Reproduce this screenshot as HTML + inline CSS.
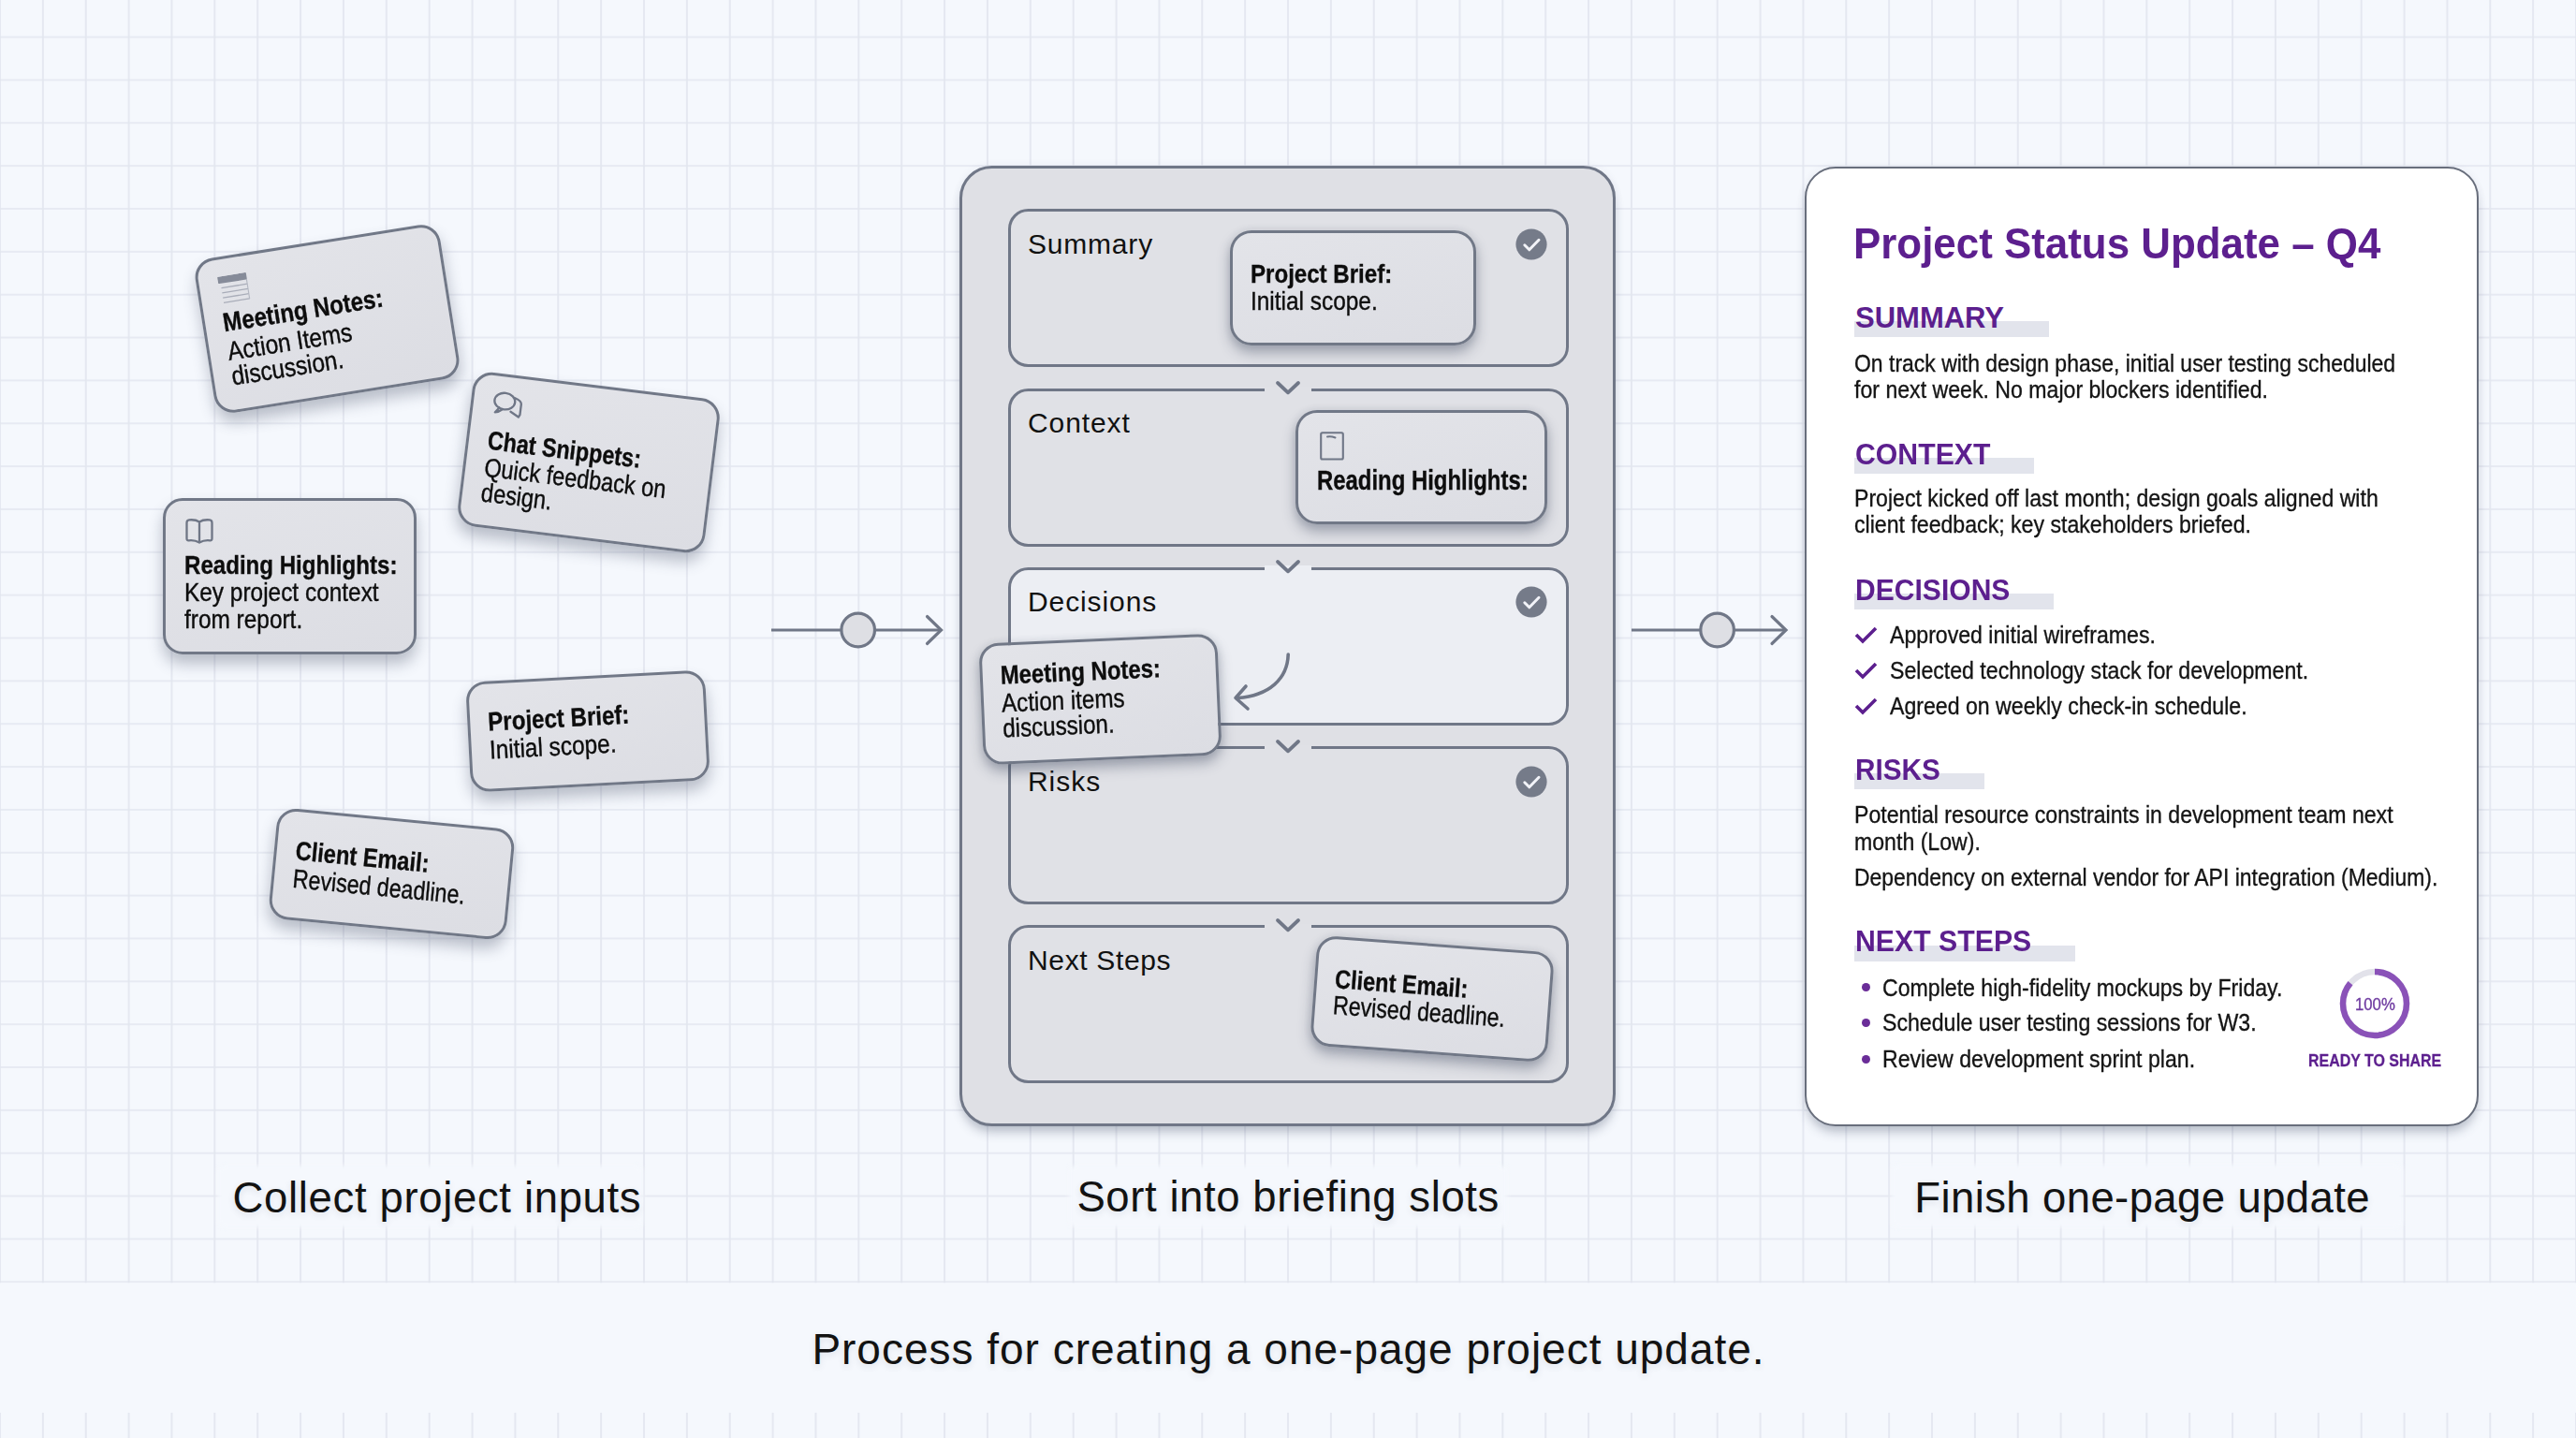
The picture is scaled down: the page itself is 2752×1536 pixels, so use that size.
<!DOCTYPE html>
<html><head><meta charset="utf-8">
<style>
*{box-sizing:border-box;margin:0;padding:0}
html,body{width:2752px;height:1536px;overflow:hidden}
body{background:#f5f8fd;font-family:"Liberation Sans",sans-serif;color:#111;position:relative}
.abs{position:absolute}
.grid{position:absolute;left:0;top:0}
.lbl{position:absolute;font-size:44px;letter-spacing:0.9px;white-space:nowrap;line-height:1;color:#121212;text-shadow:0 3px 7px rgba(60,70,90,.13)}
.glow{position:absolute;background:#f5f8fd;filter:blur(2.5px);border-radius:6px}
.card{position:absolute;background:linear-gradient(165deg,#e3e4e9 0%,#dcdde3 100%);border:3px solid #717887;border-radius:21px;box-shadow:0 10px 16px rgba(60,70,95,.33)}
.t{position:absolute;white-space:nowrap;transform-origin:0 0;line-height:1;font-size:28px;color:#0d0d0d;-webkit-text-stroke:0.4px #0d0d0d}
.t.b{-webkit-text-stroke:0.35px #0d0d0d}
.b{font-weight:700}
.panel{position:absolute;left:1025px;top:177.4px;width:701px;height:1025.7px;border:3px solid #707787;border-radius:34.5px;background:#dfe0e5;box-shadow:0 9px 12px -3px rgba(60,70,95,.32), 0 0 10px rgba(60,70,95,.06)}
.slot{position:absolute;left:1076.5px;width:599.5px;height:169px;border:3px solid #707787;border-radius:21.5px;background:#e0e1e6}
.slotlbl{position:absolute;left:1098px;font-size:30px;line-height:1;white-space:nowrap;color:#111;letter-spacing:0.5px}
.doc{position:absolute;left:1927.7px;top:177.7px;width:720.7px;height:1025px;border:2.5px solid #686e7c;border-radius:33px;background:#fff;box-shadow:0 9px 12px -3px rgba(60,70,95,.32), 0 0 10px rgba(60,70,95,.06)}
.dt{position:absolute;white-space:nowrap;transform-origin:0 0;line-height:1;font-size:26px;color:#141414;-webkit-text-stroke:0.35px #141414}
.h{position:absolute;white-space:nowrap;transform-origin:0 0;line-height:1;font-size:31px;font-weight:700;color:#5c1f8e}
.bar{position:absolute;background:#e2e4ec}
</style></head><body>
<svg class="grid" width="2752" height="1536">
<defs>
<pattern id="gp" x="-22.933" y="16.675" width="45.867" height="45.85" patternUnits="userSpaceOnUse">
<path d="M22.933 0V45.85M0 22.925H45.867" stroke="#e2e6ef" stroke-width="1.7" fill="none"/>
</pattern>
<pattern id="gv" x="-22.933" y="0" width="45.867" height="100" patternUnits="userSpaceOnUse">
<path d="M22.933 0V100" stroke="#e2e6ef" stroke-width="1.7" fill="none"/>
</pattern>
</defs>
<rect x="0" y="0" width="2752" height="1370.3" fill="url(#gp)"/>
<rect x="0" y="1509" width="2752" height="27" fill="url(#gv)"/>
</svg>
<div class="glow" style="left:233px;top:1244.5px;width:454px;height:66px"></div>
<div class="glow" style="left:1142px;top:1244.5px;width:468px;height:66px"></div>
<div class="glow" style="left:2021px;top:1244px;width:546px;height:67px"></div>
<div class="lbl" style="left:248.6px;top:1256.5px;font-size:45.5px;letter-spacing:0.65px">Collect project inputs</div>
<div class="lbl" style="left:1150.4px;top:1256.1px;font-size:45.5px;letter-spacing:0.58px">Sort into briefing slots</div>
<div class="lbl" style="left:2045.3px;top:1256.5px;font-size:45.5px;letter-spacing:0.39px">Finish one-page update</div>
<div class="lbl" style="left:867.4px;top:1418.1px;font-size:46px;letter-spacing:0.99px">Process for creating a one-page project update.</div>
<div class="card" style="left:216.9px;top:256.9px;width:265px;height:166.5px;transform:rotate(-9deg);border-radius:21px"><svg class="abs" style="left:19.5px;top:18px" width="34" height="32" viewBox="0 0 34 32"><rect x="0.5" y="0" width="31" height="7.5" rx="1" fill="#868b99"/><path d="M3 12.3H31M3 17.6H31M3 22.9H31M3 28.2H31" stroke="#a9adb9" stroke-width="1.3"/><path d="M31 7V28.5" stroke="#b3b7c1" stroke-width="1.1"/></svg><div class="t b" style="left:18.7px;top:54.3px;font-size:28px;transform:scaleX(0.86)">Meeting Notes:</div><div class="t" style="left:18.7px;top:84.8px;font-size:28px;transform:scaleX(0.872)">Action Items</div><div class="t" style="left:18.7px;top:112.1px;font-size:28px;transform:scaleX(0.872)">discussion.</div></div>
<div class="card" style="left:495.6px;top:411.3px;width:266px;height:166px;transform:rotate(7deg);border-radius:21px"><svg class="abs" style="left:19.2px;top:14.4px" width="36" height="32" viewBox="-14 -12 36 32"><g fill="none" stroke="#6f7686" stroke-width="2.3" stroke-linejoin="round" stroke-linecap="round"><path d="M10.5 -4.6C14 -3.6 17.6 -2 17.8 1L17.8 12.5L16.5 15L7.5 10.3"/><ellipse cx="0" cy="0" rx="11" ry="8.8"/><path d="M-5 7.4C-6.5 10 -8 12 -9 13C-6.5 12.6 -4 11.2 -1.5 8.9"/></g></svg><div class="t b" style="left:19.7px;top:55.7px;font-size:28px;transform:scaleX(0.835)">Chat Snippets:</div><div class="t" style="left:19.7px;top:85.1px;font-size:28px;transform:scaleX(0.842)">Quick feedback on</div><div class="t" style="left:19.7px;top:111.7px;font-size:28px;transform:scaleX(0.842)">design.</div></div>
<div class="card" style="left:174.0px;top:532.0px;width:271px;height:167px;transform:rotate(0deg);border-radius:21px"><svg class="abs" style="left:20px;top:17.5px" width="32" height="29" viewBox="0 0 32 29"><path d="M16 4.5C13 2.5 9 2 5 2.4Q2.5 2.7 2.5 5.5V22.3Q2.5 24.6 4.8 24.3C8.5 23.9 12.5 24.5 16 26.6C19.5 24.5 23.5 23.9 27.2 24.3Q29.5 24.6 29.5 22.3V5.5Q29.5 2.7 27 2.4C23 2 19 2.5 16 4.5ZM16 4.5V26.6" fill="none" stroke="#6f7686" stroke-width="2.3" stroke-linejoin="round"/></svg><div class="t b" style="left:19.5px;top:55.3px;font-size:28px;transform:scaleX(0.86)">Reading Highlights:</div><div class="t" style="left:19.5px;top:84.3px;font-size:28px;transform:scaleX(0.872)">Key project context</div><div class="t" style="left:19.5px;top:112.8px;font-size:28px;transform:scaleX(0.872)">from report.</div></div>
<div class="card" style="left:500.0px;top:722.2px;width:256px;height:118.4px;transform:rotate(-3deg);border-radius:21px"><div class="t b" style="left:19.2px;top:26.7px;font-size:28px;transform:scaleX(0.86)">Project Brief:</div><div class="t" style="left:19.2px;top:56.7px;font-size:28px;transform:scaleX(0.872)">Initial scope.</div></div>
<div class="card" style="left:290.6px;top:874.1px;width:255px;height:118.7px;transform:rotate(5.5deg);border-radius:21px"><div class="t b" style="left:20.1px;top:28.2px;font-size:28px;transform:scaleX(0.845)">Client Email:</div><div class="t" style="left:20.1px;top:57.6px;font-size:28px;transform:scaleX(0.83)">Revised deadline.</div></div>
<svg class="abs" style="left:819px;top:643px" width="193.5" height="60" viewBox="819 643 193.5 60"><path d="M824 673H1004.5" stroke="#707787" stroke-width="3" fill="none"/><path d="M990.5 658.5L1005.5 673L990.5 687.5" stroke="#707787" stroke-width="3.2" fill="none" stroke-linecap="round"/><circle cx="916.7" cy="673" r="17.8" fill="#dedfe4" stroke="#707787" stroke-width="3.2"/></svg>
<svg class="abs" style="left:1738px;top:643px" width="177" height="60" viewBox="1738 643 177 60"><path d="M1743 673H1907" stroke="#707787" stroke-width="3" fill="none"/><path d="M1893 658.5L1908 673L1893 687.5" stroke="#707787" stroke-width="3.2" fill="none" stroke-linecap="round"/><circle cx="1834.6" cy="673" r="17.8" fill="#dedfe4" stroke="#707787" stroke-width="3.2"/></svg>
<div class="panel"></div>
<div class="slot" style="top:223.30px;background:#e0e1e6"></div>
<div class="slotlbl" style="top:245.9px;letter-spacing:0.8px">Summary</div>
<svg class="abs" style="left:1619px;top:243.8px" width="34" height="34" viewBox="0 0 34 34"><circle cx="17" cy="17" r="16.6" fill="#757b89"/><path d="M9.8 17.8l5 5 10.2-10.5" stroke="#f2f3f8" stroke-width="3" fill="none" stroke-linecap="round" stroke-linejoin="round"/></svg>
<div class="slot" style="top:414.55px;background:#e0e1e6"></div>
<div class="slotlbl" style="top:437.2px;letter-spacing:0.9px">Context</div>
<div class="abs" style="left:1351px;top:413.1px;width:50px;height:5px;background:#e0e1e6"></div>
<svg class="abs" style="left:1356px;top:400.1px" width="40" height="26" viewBox="0 0 40 26"><path d="M9 9L20 19.3L31 9" stroke="#707787" stroke-width="3.8" fill="none" stroke-linecap="round" stroke-linejoin="round"/></svg>
<div class="slot" style="top:605.80px;background:#eceef3"></div>
<div class="slotlbl" style="top:628.4px;letter-spacing:0.9px">Decisions</div>
<svg class="abs" style="left:1619px;top:626.3px" width="34" height="34" viewBox="0 0 34 34"><circle cx="17" cy="17" r="16.6" fill="#757b89"/><path d="M9.8 17.8l5 5 10.2-10.5" stroke="#f2f3f8" stroke-width="3" fill="none" stroke-linecap="round" stroke-linejoin="round"/></svg>
<div class="abs" style="left:1351px;top:604.3px;width:50px;height:5px;background:#eceef3"></div>
<svg class="abs" style="left:1356px;top:591.3px" width="40" height="26" viewBox="0 0 40 26"><path d="M9 9L20 19.3L31 9" stroke="#707787" stroke-width="3.8" fill="none" stroke-linecap="round" stroke-linejoin="round"/></svg>
<div class="slot" style="top:797.05px;background:#e0e1e6"></div>
<div class="slotlbl" style="top:819.7px;letter-spacing:0.95px">Risks</div>
<svg class="abs" style="left:1619px;top:817.5px" width="34" height="34" viewBox="0 0 34 34"><circle cx="17" cy="17" r="16.6" fill="#757b89"/><path d="M9.8 17.8l5 5 10.2-10.5" stroke="#f2f3f8" stroke-width="3" fill="none" stroke-linecap="round" stroke-linejoin="round"/></svg>
<div class="abs" style="left:1351px;top:795.5px;width:50px;height:5px;background:#e0e1e6"></div>
<svg class="abs" style="left:1356px;top:782.5px" width="40" height="26" viewBox="0 0 40 26"><path d="M9 9L20 19.3L31 9" stroke="#707787" stroke-width="3.8" fill="none" stroke-linecap="round" stroke-linejoin="round"/></svg>
<div class="slot" style="top:988.30px;background:#e0e1e6"></div>
<div class="slotlbl" style="top:1010.9px;letter-spacing:0.65px">Next Steps</div>
<div class="abs" style="left:1351px;top:986.8px;width:50px;height:5px;background:#e0e1e6"></div>
<svg class="abs" style="left:1356px;top:973.8px" width="40" height="26" viewBox="0 0 40 26"><path d="M9 9L20 19.3L31 9" stroke="#707787" stroke-width="3.8" fill="none" stroke-linecap="round" stroke-linejoin="round"/></svg>
<div class="card" style="left:1313.9px;top:245.7px;width:263.6px;height:123px;transform:rotate(0deg);border-radius:23px;box-shadow:0 8px 14px rgba(55,65,90,.38), 0 0 8px rgba(55,65,90,.10)"><div class="t b" style="left:19.1px;top:30.1px;font-size:28px;transform:scaleX(0.86)">Project Brief:</div><div class="t" style="left:19.1px;top:59.3px;font-size:28px;transform:scaleX(0.872)">Initial scope.</div></div>
<div class="card" style="left:1384.2px;top:437.7px;width:269px;height:122.7px;transform:rotate(0deg);border-radius:23px;box-shadow:0 8px 14px rgba(55,65,90,.38), 0 0 8px rgba(55,65,90,.10)"><svg class="abs" style="left:22.5px;top:20.5px" width="28" height="32" viewBox="0 0 28 32"><rect x="1.2" y="1.2" width="23.6" height="28.3" rx="1.5" fill="none" stroke="#6f7686" stroke-width="2.1"/><path d="M8 5.5C11 4.8 13.5 5.3 16.5 6.5" stroke="#6f7686" stroke-width="2" fill="none" stroke-linecap="round"/></svg><div class="t b" style="left:19.4px;top:58.1px;font-size:29px;transform:scaleX(0.824)">Reading Highlights:</div></div>
<svg class="abs" style="left:1300px;top:680px" width="100" height="90" viewBox="1300 680 100 90"><path d="M1376.2 699C1375.5 725 1356 743 1322 745.5" stroke="#707787" stroke-width="3.6" fill="none" stroke-linecap="round"/><path d="M1331 733L1320 745.5L1333 757" stroke="#707787" stroke-width="3.6" fill="none" stroke-linecap="round" stroke-linejoin="round"/></svg>
<div class="card" style="left:1047.7px;top:681.5px;width:255.4px;height:129.6px;transform:rotate(-2.5deg);border-radius:21px;box-shadow:0 8px 14px rgba(55,65,90,.38), 0 0 8px rgba(55,65,90,.10)"><div class="t b" style="left:18.8px;top:18.1px;font-size:28px;transform:scaleX(0.853)">Meeting Notes:</div><div class="t" style="left:18.8px;top:47.5px;font-size:28px;transform:scaleX(0.862)">Action items</div><div class="t" style="left:18.8px;top:75.2px;font-size:28px;transform:scaleX(0.862)">discussion.</div></div>
<div class="card" style="left:1402.9px;top:1007.5px;width:253.7px;height:118.2px;transform:rotate(4.3deg);border-radius:21px;box-shadow:0 8px 14px rgba(55,65,90,.38), 0 0 8px rgba(55,65,90,.10)"><div class="t b" style="left:19.2px;top:28.7px;font-size:28px;transform:scaleX(0.84)">Client Email:</div><div class="t" style="left:19.2px;top:57.0px;font-size:28px;transform:scaleX(0.828)">Revised deadline.</div></div>
<div class="doc"></div>
<div class="h" style="left:1979.8px;top:237.4px;font-size:46px;transform:scaleX(.954)">Project Status Update – Q4</div>
<div class="bar" style="left:1981px;top:343.3px;width:208px;height:17px"></div>
<div class="h" style="left:1982px;top:324.1px;transform:scaleX(1.0)">SUMMARY</div>
<div class="dt" style="left:1981px;top:374.5px;transform:scaleX(0.883)">On track with design phase, initial user testing scheduled</div>
<div class="dt" style="left:1981px;top:402.7px;transform:scaleX(0.889)">for next week. No major blockers identified.</div>
<div class="bar" style="left:1981px;top:488.7px;width:192px;height:17px"></div>
<div class="h" style="left:1982px;top:469.5px;transform:scaleX(0.975)">CONTEXT</div>
<div class="dt" style="left:1981px;top:519.0px;transform:scaleX(0.889)">Project kicked off last month; design goals aligned with</div>
<div class="dt" style="left:1981px;top:546.5px;transform:scaleX(0.889)">client feedback; key stakeholders briefed.</div>
<div class="bar" style="left:1981px;top:633.9px;width:213px;height:17px"></div>
<div class="h" style="left:1982px;top:614.7px;transform:scaleX(0.97)">DECISIONS</div>
<svg class="abs" style="left:1980px;top:667.9px" width="28" height="22" viewBox="0 0 28 22"><path d="M3 10l7 7L24 3" stroke="#5c1f8e" stroke-width="3.6" fill="none"/></svg>
<div class="dt" style="left:2018.7px;top:664.9px;transform:scaleX(0.889)">Approved initial wireframes.</div>
<svg class="abs" style="left:1980px;top:705.7px" width="28" height="22" viewBox="0 0 28 22"><path d="M3 10l7 7L24 3" stroke="#5c1f8e" stroke-width="3.6" fill="none"/></svg>
<div class="dt" style="left:2018.7px;top:702.7px;transform:scaleX(0.889)">Selected technology stack for development.</div>
<svg class="abs" style="left:1980px;top:744.2px" width="28" height="22" viewBox="0 0 28 22"><path d="M3 10l7 7L24 3" stroke="#5c1f8e" stroke-width="3.6" fill="none"/></svg>
<div class="dt" style="left:2018.7px;top:741.2px;transform:scaleX(0.889)">Agreed on weekly check-in schedule.</div>
<div class="bar" style="left:1981px;top:826.1px;width:139px;height:17px"></div>
<div class="h" style="left:1982px;top:806.9px;transform:scaleX(0.96)">RISKS</div>
<div class="dt" style="left:1981px;top:857.2px;transform:scaleX(0.889)">Potential resource constraints in development team next</div>
<div class="dt" style="left:1981px;top:886.0px;transform:scaleX(0.889)">month (Low).</div>
<div class="dt" style="left:1981px;top:923.8px;transform:scaleX(0.882)">Dependency on external vendor for API integration (Medium).</div>
<div class="bar" style="left:1981px;top:1009.6px;width:236px;height:17px"></div>
<div class="h" style="left:1982px;top:990.4px;transform:scaleX(0.976)">NEXT STEPS</div>
<div class="abs" style="left:1988.8px;top:1050.0px;width:9px;height:9px;border-radius:50%;background:#6a2d98"></div>
<div class="dt" style="left:2011.4px;top:1041.5px;transform:scaleX(0.889)">Complete high-fidelity mockups by Friday.</div>
<div class="abs" style="left:1988.8px;top:1087.9px;width:9px;height:9px;border-radius:50%;background:#6a2d98"></div>
<div class="dt" style="left:2011.4px;top:1079.4px;transform:scaleX(0.889)">Schedule user testing sessions for W3.</div>
<div class="abs" style="left:1988.8px;top:1126.7px;width:9px;height:9px;border-radius:50%;background:#6a2d98"></div>
<div class="dt" style="left:2011.4px;top:1118.2px;transform:scaleX(0.889)">Review development sprint plan.</div>
<svg class="abs" style="left:2496.5px;top:1031.7px" width="80" height="80" viewBox="0 0 80 80"><circle cx="40" cy="40" r="34" fill="none" stroke="#e2e2ea" stroke-width="6.5"/><circle cx="40" cy="40" r="34" fill="none" stroke="#8a52b8" stroke-width="6.5" stroke-dasharray="183.7 213.6" transform="rotate(-90 40 40)"/></svg>
<div class="dt" style="left:2515.5px;top:1062.7px;font-size:19px;color:#6e3aa0;-webkit-text-stroke:0.35px #6e3aa0;transform:scaleX(.88)">100%</div>
<div class="h" style="left:2465.6px;top:1123.1px;font-size:19px;-webkit-text-stroke:0.3px #5c1f8e;transform:scaleX(.84)">READY TO SHARE</div>
</body></html>
